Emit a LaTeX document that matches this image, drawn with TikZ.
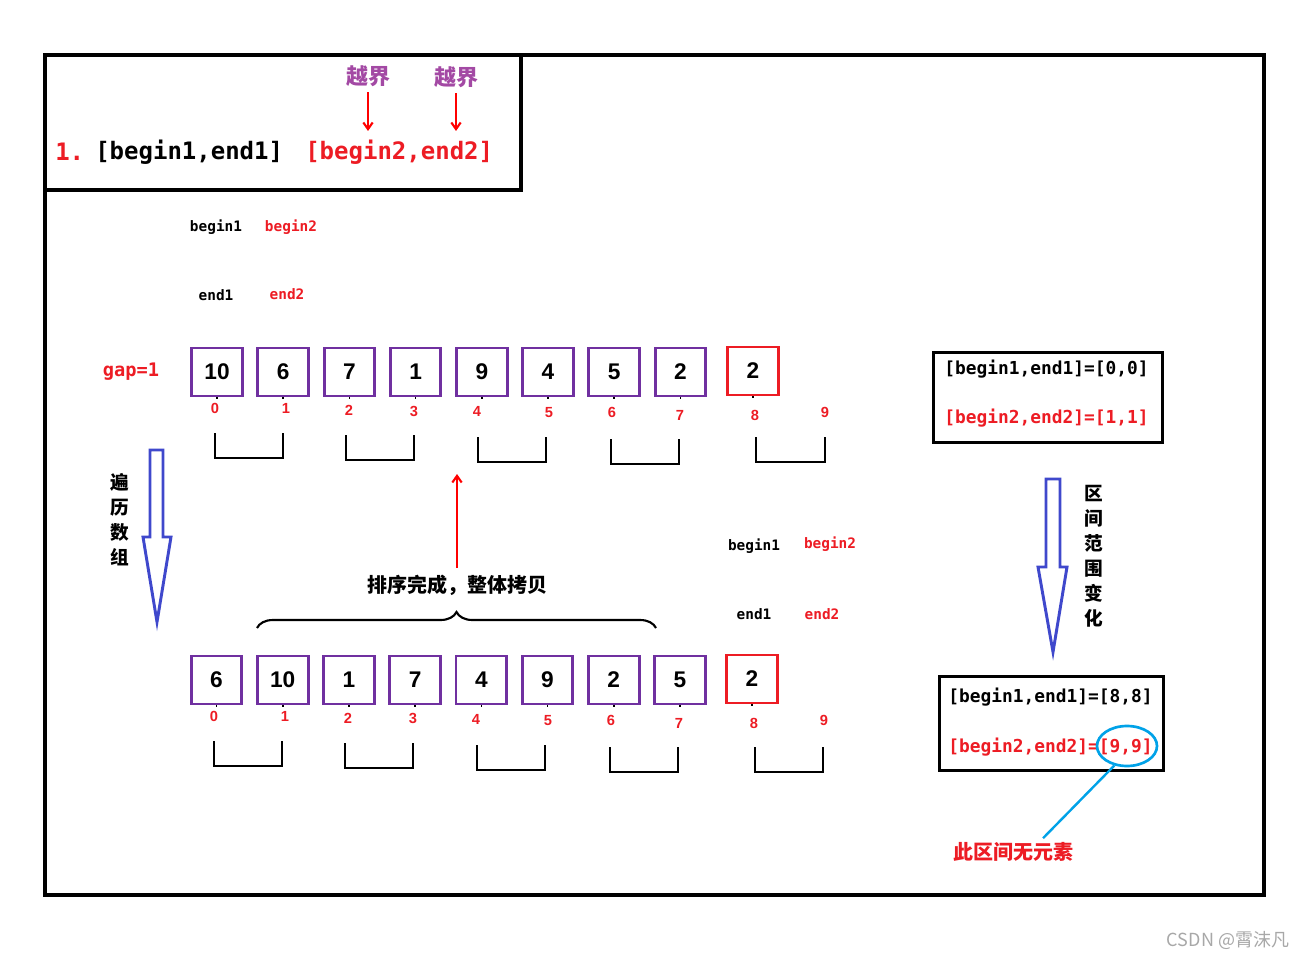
\documentclass[tikz,border=0pt]{standalone}
\usepackage{fontspec}
\setmonofont{DejaVu Sans Mono}
\newfontfamily\cjk{Noto Sans CJK SC}
\newfontfamily\numfont{Liberation Sans}
\usetikzlibrary{arrows.meta,positioning,shapes.geometric,decorations.pathreplacing}
\definecolor{BoxPurple}{HTML}{7030A0}
\definecolor{PaintRed}{HTML}{ED1C24}
\definecolor{ArrowRed}{HTML}{FF0000}
\definecolor{Violet}{HTML}{A349A4}
\definecolor{Indigo}{HTML}{3F48CC}
\definecolor{Turquoise}{HTML}{00A2E8}
\definecolor{MarkGray}{HTML}{A8A8A8}

\begin{document}
\begin{tikzpicture}[x=0.75pt,y=-0.75pt,
  frame/.style={draw,line width=2.3pt},
  cell/.style={draw=BoxPurple,line width=2.2pt,minimum width=38pt,minimum height=36pt,inner sep=0pt,font=\numfont\bfseries\fontsize{17}{17}\selectfont},
  lastcell/.style={cell,draw=PaintRed},
  idx/.style={text=PaintRed,inner sep=0pt,font=\numfont\bfseries\fontsize{11}{11}\selectfont},
  tick/.style={line width=1.2pt},
  pair/.style={line width=2.2pt},
  lab/.style={inner sep=0pt,font=\ttfamily\bfseries\fontsize{10.8}{12}\selectfont},
  code/.style={inner sep=0pt,anchor=west,font=\ttfamily\bfseries\fontsize{13.4}{15}\selectfont},
  big/.style={inner sep=0pt,anchor=west,font=\ttfamily\bfseries\fontsize{18}{20}\selectfont},
  zh/.style={inner sep=0pt,font=\cjk\bfseries\fontsize{15}{18}\selectfont},
  vzh/.style={inner sep=0pt,align=center,font=\cjk\bfseries\fontsize{14}{18.75}\selectfont},
  arr/.style={-{Straight Barb[length=5pt,width=7pt]},line width=1.6pt,color=ArrowRed},
  hollow/.style={draw=Indigo,line width=2.2pt,line join=miter},
  brace/.style={decorate,decoration={brace,amplitude=12pt},line width=1.6pt},
  pointer/.style={draw=Turquoise,line width=1.8pt}]

\useasboundingbox (0,0) rectangle (1309,959);
\fill[white] (0,0) rectangle (1309,959);

% frames
\draw[frame] (45,55) rectangle (1264,895);
\draw[frame] (45,55) rectangle (521,190);

% heading
\node[big,text=PaintRed] (num) at (55,152) {1.};
\node[big] (range1) at (95,152) {[begin1,end1]};
\node[big,text=PaintRed] (range2) at (305,152) {[begin2,end2]};
\node[zh,text=Violet,font=\cjk\bfseries\fontsize{16.5}{18}\selectfont] (over1) at (368,76) {越界};
\node[zh,text=Violet,font=\cjk\bfseries\fontsize{16.5}{18}\selectfont] (over2) at (456,77) {越界};
\coordinate (hit1) at (368,131);
\coordinate (hit2) at (456,131);
\draw[arr] ([yshift=-4pt]over1.south) -- (hit1);
\draw[arr] ([yshift=-4pt]over2.south) -- (hit2);

% first pass
\node[lab] (b1) at (216,227) {begin1};
\node[lab,text=PaintRed] (b2) at (291,227) {begin2};
\node[lab] (e1) at (216,295) {end1};
\node[lab,text=PaintRed] (e2) at (287,294) {end2};
\node[lab,text=PaintRed,font=\ttfamily\bfseries\fontsize{14}{16}\selectfont] (gap) at (131,372) {gap=1};

\foreach \v [count=\i from 0] in {10,6,7,1,9,4,5,2}
  \node[cell] (t\i) at (217+66.2*\i,372) {\v};
\node[lastcell] (t8) at (753,371) {2};
\foreach \i in {0,...,8}
  \draw[tick] (t\i.south) -- ++(0,2);
\foreach \lx/\ly [count=\k from 0] in {215/408,286/408,349/410,414/411,477/411,549/413,612/412,680/415,755/415,825/412}
  \node[idx] (ti\k) at (\lx,\ly) {\k};
\foreach \xa/\xb/\ya/\yb in {215/283/433/458,346/414/435/460,478/546/437/462,611/679/439/464,756/825/437/462}
  \draw[pair] (\xa,\ya) |- (\xb,\yb) -- (\xb,\ya);

% walk arrow
\draw[hollow] (150,450) -- (163,450) -- (163,537) -- (171,537) -- (157,622) -- (143,537) -- (150,537) -- cycle;
\node[vzh] (walk) at (120,519.5) {遍\\历\\数\\组};

% copy back
\node[zh] (copy) at (457,585) {排序完成，整体拷贝};
\coordinate (copyTip) at (457,474);
\draw[arr] ([yshift=5pt]copy.north) -- (copy.north |- copyTip);
\coordinate (braceL) at (257,628);
\coordinate (braceR) at (656,628);
\draw[brace] (braceL) -- (braceR);

% last pass
\node[lab] (b1last) at (754,546) {begin1};
\node[lab,text=PaintRed] (b2last) at (830,544) {begin2};
\node[lab] (e1last) at (754,614) {end1};
\node[lab,text=PaintRed] (e2last) at (822,614) {end2};

\foreach \v [count=\i from 0] in {6,10,1,7,4,9,2,5}
  \node[cell] (s\i) at (216.5+66.2*\i,680) {\v};
\node[lastcell] (s8) at (752,679) {2};
\foreach \i in {0,...,8}
  \draw[tick] (s\i.south) -- ++(0,2);
\foreach \lx/\ly [count=\k from 0] in {214/716,285/716,348/718,413/718,476/719,548/721,611/720,679/723,754/723,824/720}
  \node[idx] (si\k) at (\lx,\ly) {\k};
\foreach \xa/\xb/\ya/\yb in {214/282/741/766,345/413/743/768,477/545/745/770,610/678/747/772,755/823/747/772}
  \draw[pair] (\xa,\ya) |- (\xb,\yb) -- (\xb,\ya);

% ranges
\node[frame,minimum width=171.75pt,minimum height=67.5pt,inner sep=0pt] (state1) at (1048,397.5) {};
\node[code] (s1a) at (944,369) {[begin1,end1]=[0,0]};
\node[code,text=PaintRed] (s1b) at (944,418) {[begin2,end2]=[1,1]};

\draw[hollow] (1046,479) -- (1060,479) -- (1060,567) -- (1067,567) -- (1053,652) -- (1038,567) -- (1046,567) -- cycle;
\node[vzh] (span) at (1094,556.5) {区\\间\\范\\围\\变\\化};

\node[frame,minimum width=168pt,minimum height=70.5pt,inner sep=0pt] (state2) at (1051.5,723.5) {};
\node[code] (s2a) at (948,697) {[begin1,end1]=[8,8]};
\node[code,text=PaintRed] (s2b) at (948,747) {[begin2,end2]=[9,9]};

\node[draw=Turquoise,ellipse,line width=2pt,minimum width=45pt,minimum height=30pt,inner sep=0pt] (empty) at (1127,746) {};
\node[zh,text=PaintRed] (note) at (1013,852) {此区间无元素};
\draw[pointer] (empty.237) -- ([xshift=22.5pt,yshift=3pt]note.north);

\node[inner sep=0pt,text=MarkGray,font=\cjk\fontsize{13.5}{14}\selectfont] (mark) at (1228,940) {CSDN @霄沫凡};
\end{tikzpicture}
\end{document}
